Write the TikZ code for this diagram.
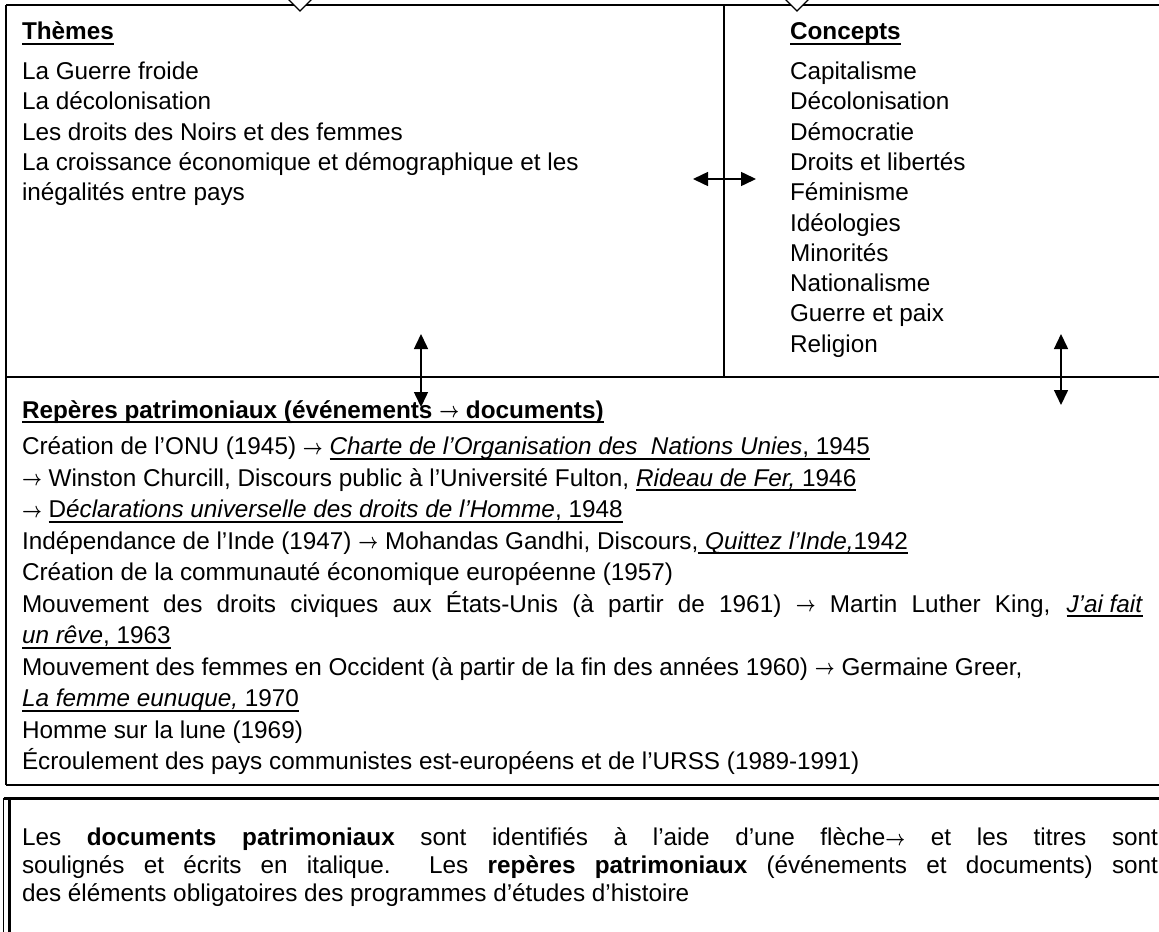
\documentclass[tikz,border=0pt]{standalone}
\usepackage{fontspec}
\setmainfont{Liberation Sans}
\usetikzlibrary{arrows.meta}
\newcommand{\ulx}[1]{\setbox0\hbox{#1}\leavevmode\rlap{\rule[-2.7pt]{\wd0}{1.05pt}}\box0}
\newcommand{\arr}{\raisebox{0.2pt}{\scalebox{0.72}[0.9]{\boldmath$\rightarrow$}}}
\begin{document}
\begin{tikzpicture}[x=0.5pt,y=-0.5pt,
  txt/.style={anchor=base west,inner sep=0pt,outer sep=0pt,font=\fontsize{12.15}{14}\selectfont},
  frameline/.style={line width=0.85pt},
  dbl/.style={{Triangle[length=7.5pt,width=7pt]}-{Triangle[length=7.5pt,width=7pt]},line width=0.75pt},
  vtip/.style={fill=white,draw=black,line width=0.6pt}]
\useasboundingbox (0,0) rectangle (1159,931);
\fill[white] (0,0) rectangle (1159,931);

% frame of the upper table
\draw[line width=1pt] (6,5) -- (1165,5);
\draw[frameline] (6,5) -- (6,785);
\draw[line width=0.75pt] (724,5) -- (724,377);
\draw[line width=0.75pt] (6,377) -- (1165,377);
\draw[frameline] (6,785) -- (1165,785);
% incoming arrow tips at the top
\draw[vtip] (287,-2) -- (300,11) -- (313,-2);
\draw[vtip] (784,-2) -- (797,11) -- (810,-2);

% lower box, double border
\draw[line width=1.35pt] (3.5,798.5) -- (1165,798.5);
\draw[line width=0.5pt] (3.5,798) -- (3.5,940);
\draw[line width=1.3pt] (9.5,798) -- (9.5,940);

% Themes
\node[txt] (th) at (22,39.5) {\ulx{\textbf{Thèmes}}};
\node[txt] (t1) at (22,79.5) {La Guerre froide};
\node[txt] (t2) at (22,109.8) {La décolonisation};
\node[txt] (t3) at (22,140.1) {Les droits des Noirs et des femmes};
\node[txt] (t4) at (22,170.4) {La croissance économique et démographique et les};
\node[txt] (t5) at (22,200.7) {inégalités entre pays};

% Concepts
\node[txt] (co) at (790,39.5) {\ulx{\textbf{Concepts}}};
\node[txt] (c1) at (790,79.5) {Capitalisme};
\node[txt] (c2) at (790,109.8) {Décolonisation};
\node[txt] (c3) at (790,140.1) {Démocratie};
\node[txt] (c4) at (790,170.4) {Droits et libertés};
\node[txt] (c5) at (790,200.7) {Féminisme};
\node[txt] (c6) at (790,231) {Idéologies};
\node[txt] (c7) at (790,261.3) {Minorités};
\node[txt] (c8) at (790,291.6) {Nationalisme};
\node[txt] (c9) at (790,321.9) {Guerre et paix};
\node[txt] (c10) at (790,352.2) {Religion};

% Reperes
\node[txt] (rp) at (22,418) {\ulx{\textbf{Repères patrimoniaux (événements \arr{} documents)}}};
\node[txt] (r1) at (22,454.5) {Création de l’ONU (1945) \arr{} \ulx{\textit{Charte de l’Organisation des\ \ Nations Unies}, 1945}};
\node[txt] (r2) at (22,486) {\arr{} Winston Churcill, Discours public à l’Université Fulton, \ulx{\textit{Rideau de Fer,} 1946}};
\node[txt] (r3) at (22,517.5) {\arr{} \ulx{D\textit{éclarations universelle des droits de l’Homme}, 1948}};
\node[txt] (r4) at (22,549) {Indépendance de l’Inde (1947) \arr{} Mohandas Gandhi, Discours,\ulx{ \textit{Quittez l’Inde,}1942}};
\node[txt] (r5) at (22,580.5) {Création de la communauté économique européenne (1957)};
\node[txt] (r6) at (22,612) {\makebox[560.5pt][s]{Mouvement des droits civiques aux États-Unis (à partir de 1961) \arr{} Martin Luther King, \ulx{\textit{J’ai fait}}}};
\node[txt] (r7) at (22,643.5) {\ulx{\textit{un rêve}, 1963}};
\node[txt] (r8) at (22,675) {Mouvement des femmes en Occident (à partir de la fin des années 1960) \arr{} Germaine Greer,};
\node[txt] (r9) at (22,706.5) {\ulx{\textit{La femme eunuque,} 1970}};
\node[txt] (r10) at (22,738) {Homme sur la lune (1969)};
\node[txt] (r11) at (22,769.5) {Écroulement des pays communistes est-européens et de l’URSS (1989-1991)};

% note box
\node[txt] (n1) at (22,845.5) {\makebox[568pt][s]{Les \textbf{documents patrimoniaux} sont identifiés à l’aide d’une flèche\arr{} et les titres sont}};
\node[txt] (n2) at (22,873.5) {\makebox[568pt][s]{soulignés et écrits en italique.\ \ Les \textbf{repères patrimoniaux} (événements et documents) sont}};
\node[txt] (n3) at (22,901) {des éléments obligatoires des programmes d’études d’histoire};

% double arrows
\coordinate (hl) at (693,179);
\coordinate (hr) at (756,179);
\coordinate (vla) at (421,334);
\coordinate (vlb) at (421,407);
\coordinate (vra) at (1061,334);
\coordinate (vrb) at (1061,405);
\draw[dbl] (hl) -- (hr);
\draw[dbl] (vla) -- (vlb);
\draw[dbl] (vra) -- (vrb);
\end{tikzpicture}
\end{document}
